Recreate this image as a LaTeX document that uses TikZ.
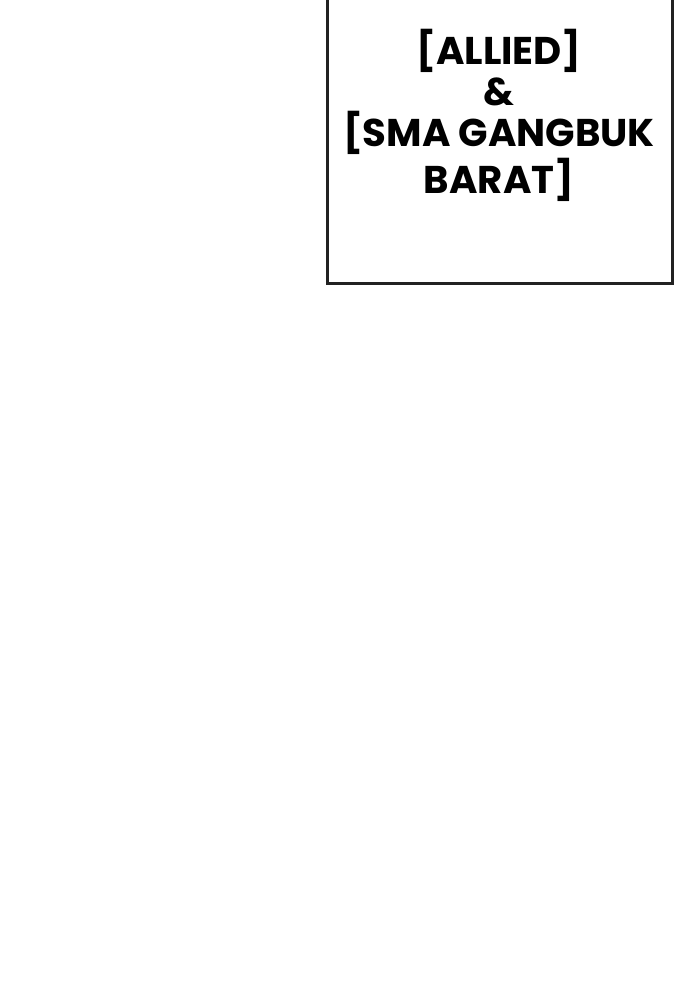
\documentclass[tikz,border=0pt]{standalone}
\usepackage{fontspec}
\setmainfont{Poppins}[BoldFont={* Bold}]
\usetikzlibrary{positioning}
\definecolor{inkline}{RGB}{34,34,34}
\tikzset{
  panel/.style={draw=inkline, line width=0.85pt, fill=white},
  caption/.style={align=center, font=\fontsize{11}{11.7}\selectfont\bfseries, text=black, inner sep=0pt},
}
\begin{document}
\begin{tikzpicture}
  \useasboundingbox[fill=white] (0,0) rectangle (6.9,10);
  % caption box, its top edge runs off the page
  \draw[panel] (3.27,7.16) rectangle (6.72,10.2);
  \node[caption] (title) at (4.99,8.85) {[ALLIED]\\\&\\[0pt][SMA GANGBUK\\BARAT]};
\end{tikzpicture}
\end{document}
